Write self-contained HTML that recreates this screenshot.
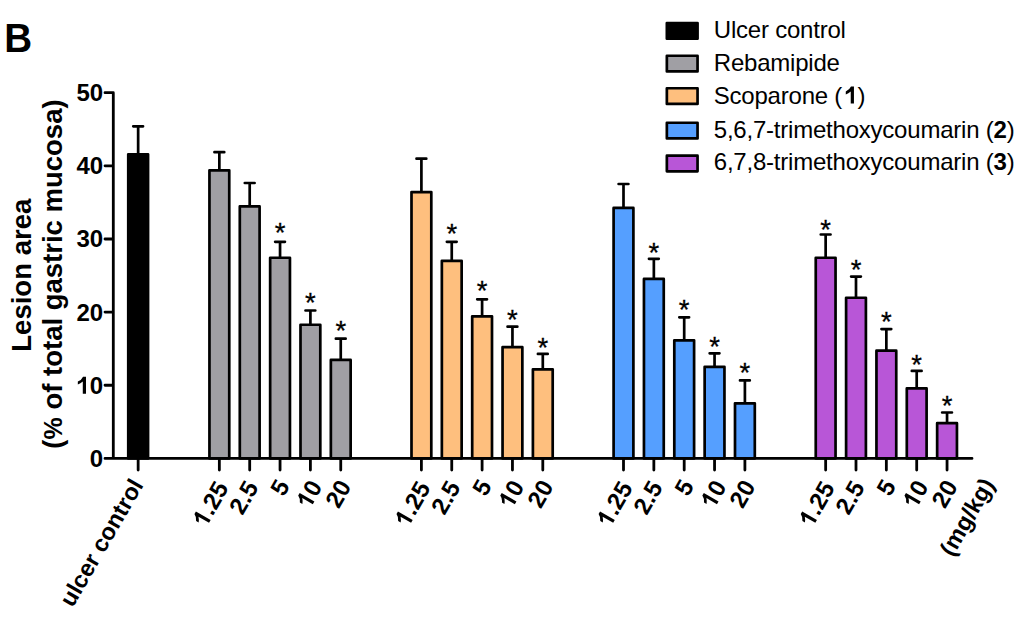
<!DOCTYPE html>
<html><head><meta charset="utf-8"><style>
html,body{margin:0;padding:0;background:#fff;}
svg{display:block;}
text{font-family:"Liberation Sans",sans-serif;}
.yt{font-weight:bold;font-size:24px;text-anchor:end;}
.xl{font-weight:bold;text-anchor:end;}
.st text{font-size:27.5px;text-anchor:middle;stroke:#000;stroke-width:0.3px;}
.lg{font-size:24px;letter-spacing:-0.22px;}
.b{font-weight:bold;}
.tt{font-weight:bold;text-anchor:middle;}
.h1{fill-opacity:0;}
</style></head><body>
<svg width="1024" height="620" viewBox="0 0 1024 620">
<rect width="1024" height="620" fill="#fff"/>
<text transform="translate(4.2,52) scale(0.935,1)" font-weight="bold" font-size="41.3">B</text>
<g stroke="#000" stroke-width="2.7" stroke-linejoin="round" stroke-linecap="round">
<path d="M138.15 154.00V126.30M133.25 126.30H143.05"/>
<rect x="128.25" y="154.35" width="19.80" height="304.05" fill="#000"/>
<path d="M219.35 170.00V152.20M214.45 152.20H224.25"/>
<rect x="209.45" y="170.35" width="19.80" height="288.05" fill="#A09FA4"/>
<path d="M249.70 206.10V183.00M244.80 183.00H254.60"/>
<rect x="239.80" y="206.45" width="19.80" height="251.95" fill="#A09FA4"/>
<path d="M280.05 257.40V241.80M275.15 241.80H284.95"/>
<rect x="270.15" y="257.75" width="19.80" height="200.65" fill="#A09FA4"/>
<path d="M310.40 324.40V310.50M305.50 310.50H315.30"/>
<rect x="300.50" y="324.75" width="19.80" height="133.65" fill="#A09FA4"/>
<path d="M340.75 359.60V338.70M335.85 338.70H345.65"/>
<rect x="330.85" y="359.95" width="19.80" height="98.45" fill="#A09FA4"/>
<path d="M421.40 191.70V158.70M416.50 158.70H426.30"/>
<rect x="411.50" y="192.05" width="19.80" height="266.35" fill="#FEBF7E"/>
<path d="M451.75 260.50V241.80M446.85 241.80H456.65"/>
<rect x="441.85" y="260.85" width="19.80" height="197.55" fill="#FEBF7E"/>
<path d="M482.10 316.00V299.30M477.20 299.30H487.00"/>
<rect x="472.20" y="316.35" width="19.80" height="142.05" fill="#FEBF7E"/>
<path d="M512.45 346.80V326.70M507.55 326.70H517.35"/>
<rect x="502.55" y="347.15" width="19.80" height="111.25" fill="#FEBF7E"/>
<path d="M542.80 369.00V353.90M537.90 353.90H547.70"/>
<rect x="532.90" y="369.35" width="19.80" height="89.05" fill="#FEBF7E"/>
<path d="M623.50 207.60V184.00M618.60 184.00H628.40"/>
<rect x="613.60" y="207.95" width="19.80" height="250.45" fill="#559FFF"/>
<path d="M653.85 278.60V258.80M648.95 258.80H658.75"/>
<rect x="643.95" y="278.95" width="19.80" height="179.45" fill="#559FFF"/>
<path d="M684.20 340.00V317.30M679.30 317.30H689.10"/>
<rect x="674.30" y="340.35" width="19.80" height="118.05" fill="#559FFF"/>
<path d="M714.55 366.50V353.30M709.65 353.30H719.45"/>
<rect x="704.65" y="366.85" width="19.80" height="91.55" fill="#559FFF"/>
<path d="M744.90 403.00V380.40M740.00 380.40H749.80"/>
<rect x="735.00" y="403.35" width="19.80" height="55.05" fill="#559FFF"/>
<path d="M825.65 257.40V234.50M820.75 234.50H830.55"/>
<rect x="815.75" y="257.75" width="19.80" height="200.65" fill="#B856D7"/>
<path d="M856.00 297.40V276.60M851.10 276.60H860.90"/>
<rect x="846.10" y="297.75" width="19.80" height="160.65" fill="#B856D7"/>
<path d="M886.35 350.30V329.10M881.45 329.10H891.25"/>
<rect x="876.45" y="350.65" width="19.80" height="107.75" fill="#B856D7"/>
<path d="M916.70 388.10V370.90M911.80 370.90H921.60"/>
<rect x="906.80" y="388.45" width="19.80" height="69.95" fill="#B856D7"/>
<path d="M947.05 422.80V412.50M942.15 412.50H951.95"/>
<rect x="937.15" y="423.15" width="19.80" height="35.25" fill="#B856D7"/>
<path d="M105 92.70H113.3V458.4H972M105 458.40H113.3M105 385.26H113.3M105 312.12H113.3M105 238.98H113.3M105 165.84H113.3M138.15 458.40V470M219.35 458.40V470M249.70 458.40V470M280.05 458.40V470M310.40 458.40V470M340.75 458.40V470M421.40 458.40V470M451.75 458.40V470M482.10 458.40V470M512.45 458.40V470M542.80 458.40V470M623.50 458.40V470M653.85 458.40V470M684.20 458.40V470M714.55 458.40V470M744.90 458.40V470M825.65 458.40V470M856.00 458.40V470M886.35 458.40V470M916.70 458.40V470M947.05 458.40V470" fill="none" stroke-width="2.8"/>
<rect x="666.85" y="23.05" width="30.70" height="15.70" fill="#000"/>
<rect x="666.85" y="55.75" width="30.70" height="15.70" fill="#A09FA4"/>
<rect x="666.85" y="88.25" width="30.70" height="15.70" fill="#FEBF7E"/>
<rect x="666.85" y="122.75" width="30.70" height="15.70" fill="#559FFF"/>
<rect x="666.85" y="155.65" width="30.70" height="15.70" fill="#B856D7"/>
</g>
<g class="st">
<text x="280.05" y="241.51">*</text>
<text x="310.40" y="311.56">*</text>
<text x="340.75" y="339.76">*</text>
<text x="451.75" y="242.96">*</text>
<text x="482.10" y="299.76">*</text>
<text x="512.45" y="329.41">*</text>
<text x="542.80" y="356.56">*</text>
<text x="653.85" y="261.91">*</text>
<text x="684.20" y="319.46">*</text>
<text x="714.55" y="356.41">*</text>
<text x="744.90" y="382.46">*</text>
<text x="825.65" y="238.61">*</text>
<text x="856.00" y="278.96">*</text>
<text x="886.35" y="331.31">*</text>
<text x="916.70" y="373.61">*</text>
<text x="947.05" y="414.86">*</text>
</g>
<text transform="translate(30.6,275.2) rotate(-90)" class="tt" font-size="27.55">Lesion area</text>
<text transform="translate(62,274) rotate(-90)" class="tt" font-size="27.5">(<tspan font-size="25">%</tspan> of total gastric mucosa)</text>
<text x="103.20" y="466.80" class="yt">0</text>
<text x="103.20" y="393.66" class="yt"><tspan class="h1">1</tspan>0</text><path transform="translate(76.48,393.66) scale(0.01172,-0.01172)" d="M812 0L538 0L538 1038Q340 860 115 780L115 1030Q420 1150 560 1450L812 1450Z"/>
<text x="103.20" y="320.52" class="yt">20</text>
<text x="103.20" y="247.38" class="yt">30</text>
<text x="103.20" y="174.24" class="yt">40</text>
<text x="103.20" y="101.10" class="yt">50</text>
<g transform="translate(143.90,485.00) rotate(-60)"><text x="0.00" y="0.00" class="xl" font-size="23.5">ulcer control</text></g>
<g transform="translate(229.25,487.80) rotate(-60)"><text x="0.00" y="0.00" class="xl" font-size="24"><tspan class="h1">1</tspan>.25</text><path transform="translate(-46.73,0.00) scale(0.01172,-0.01172)" d="M812 0L538 0L538 1038Q340 860 115 780L115 1030Q420 1150 560 1450L812 1450Z"/></g>
<g transform="translate(259.20,487.20) rotate(-60)"><text x="0.00" y="0.00" class="xl" font-size="24">2.5</text></g>
<g transform="translate(290.45,486.00) rotate(-60)"><text x="0.00" y="0.00" class="xl" font-size="24">5</text></g>
<g transform="translate(323.00,486.50) rotate(-60)"><text x="0.00" y="0.00" class="xl" font-size="24"><tspan class="h1">1</tspan>0</text><path transform="translate(-26.72,0.00) scale(0.01172,-0.01172)" d="M812 0L538 0L538 1038Q340 860 115 780L115 1030Q420 1150 560 1450L812 1450Z"/></g>
<g transform="translate(352.05,486.25) rotate(-60)"><text x="0.00" y="0.00" class="xl" font-size="24">20</text></g>
<g transform="translate(431.30,487.80) rotate(-60)"><text x="0.00" y="0.00" class="xl" font-size="24"><tspan class="h1">1</tspan>.25</text><path transform="translate(-46.73,0.00) scale(0.01172,-0.01172)" d="M812 0L538 0L538 1038Q340 860 115 780L115 1030Q420 1150 560 1450L812 1450Z"/></g>
<g transform="translate(461.25,487.20) rotate(-60)"><text x="0.00" y="0.00" class="xl" font-size="24">2.5</text></g>
<g transform="translate(492.50,486.00) rotate(-60)"><text x="0.00" y="0.00" class="xl" font-size="24">5</text></g>
<g transform="translate(525.05,486.50) rotate(-60)"><text x="0.00" y="0.00" class="xl" font-size="24"><tspan class="h1">1</tspan>0</text><path transform="translate(-26.72,0.00) scale(0.01172,-0.01172)" d="M812 0L538 0L538 1038Q340 860 115 780L115 1030Q420 1150 560 1450L812 1450Z"/></g>
<g transform="translate(554.10,486.25) rotate(-60)"><text x="0.00" y="0.00" class="xl" font-size="24">20</text></g>
<g transform="translate(633.40,487.80) rotate(-60)"><text x="0.00" y="0.00" class="xl" font-size="24"><tspan class="h1">1</tspan>.25</text><path transform="translate(-46.73,0.00) scale(0.01172,-0.01172)" d="M812 0L538 0L538 1038Q340 860 115 780L115 1030Q420 1150 560 1450L812 1450Z"/></g>
<g transform="translate(663.35,487.20) rotate(-60)"><text x="0.00" y="0.00" class="xl" font-size="24">2.5</text></g>
<g transform="translate(694.60,486.00) rotate(-60)"><text x="0.00" y="0.00" class="xl" font-size="24">5</text></g>
<g transform="translate(727.15,486.50) rotate(-60)"><text x="0.00" y="0.00" class="xl" font-size="24"><tspan class="h1">1</tspan>0</text><path transform="translate(-26.72,0.00) scale(0.01172,-0.01172)" d="M812 0L538 0L538 1038Q340 860 115 780L115 1030Q420 1150 560 1450L812 1450Z"/></g>
<g transform="translate(756.20,486.25) rotate(-60)"><text x="0.00" y="0.00" class="xl" font-size="24">20</text></g>
<g transform="translate(835.55,487.80) rotate(-60)"><text x="0.00" y="0.00" class="xl" font-size="24"><tspan class="h1">1</tspan>.25</text><path transform="translate(-46.73,0.00) scale(0.01172,-0.01172)" d="M812 0L538 0L538 1038Q340 860 115 780L115 1030Q420 1150 560 1450L812 1450Z"/></g>
<g transform="translate(865.50,487.20) rotate(-60)"><text x="0.00" y="0.00" class="xl" font-size="24">2.5</text></g>
<g transform="translate(896.75,486.00) rotate(-60)"><text x="0.00" y="0.00" class="xl" font-size="24">5</text></g>
<g transform="translate(929.30,486.50) rotate(-60)"><text x="0.00" y="0.00" class="xl" font-size="24"><tspan class="h1">1</tspan>0</text><path transform="translate(-26.72,0.00) scale(0.01172,-0.01172)" d="M812 0L538 0L538 1038Q340 860 115 780L115 1030Q420 1150 560 1450L812 1450Z"/></g>
<g transform="translate(958.35,486.25) rotate(-60)"><text x="0.00" y="0.00" class="xl" font-size="24">20</text></g>
<g transform="translate(995.10,484.30) rotate(-60)"><text x="0.00" y="0.00" class="xl" font-size="23.5">(mg/kg)</text></g>
<text x="713.80" y="38.40" class="lg">Ulcer control</text>
<text x="713.80" y="71.30" class="lg">Rebamipide</text>
<text x="713.80" y="103.60" class="lg">Scoparone (<tspan class="b" dx="2.3"><tspan class="h1">1</tspan></tspan>)</text><path transform="translate(844.43,103.60) scale(0.01172,-0.01172)" d="M812 0L538 0L538 1038Q340 860 115 780L115 1030Q420 1150 560 1450L812 1450Z"/>
<text x="713.80" y="137.50" class="lg">5,6,7-trimethoxycoumarin (<tspan class="b">2</tspan>)</text>
<text x="713.80" y="170.40" class="lg">6,7,8-trimethoxycoumarin (<tspan class="b">3</tspan>)</text>
</svg>
</body></html>
